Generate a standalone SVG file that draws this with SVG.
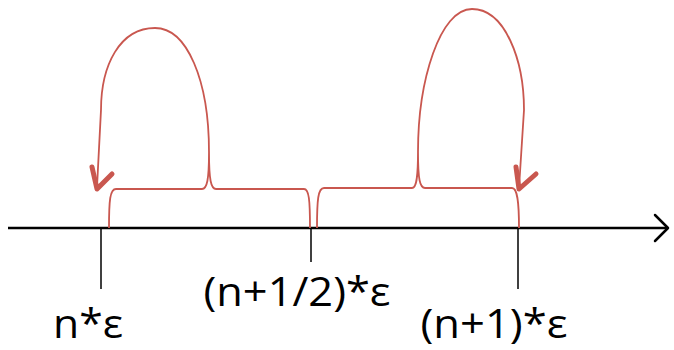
<svg xmlns="http://www.w3.org/2000/svg" width="674" height="350" viewBox="0 0 674 350">
<style>
.ax{stroke:#000;fill:none;stroke-width:2.5}
.tk{stroke:#000;fill:none;stroke-width:1.5}
.br{stroke:#C9574F;fill:none;stroke-width:1.8}
.ah{stroke:#C9574F;fill:none;stroke-width:5;stroke-linecap:round;stroke-linejoin:round}
.lb{font-family:"Open Sans","Liberation Sans",sans-serif;font-size:40px;fill:#000;text-anchor:middle}
</style>
<rect width="674" height="350" fill="#fff"/>
<g id="axis">
<line class="ax" x1="8" y1="228" x2="668" y2="228"/>
<polyline class="ax" points="655,215 668,228 655,241" stroke-width="4" stroke-linecap="round" stroke-linejoin="round"/>
<line class="tk" x1="101" y1="228" x2="101" y2="289"/>
<line class="tk" x1="311" y1="228" x2="311" y2="262"/>
<line class="tk" x1="518" y1="228" x2="518" y2="289"/>
</g>
<g id="label-n">
<text class="lb" x="88" y="338" textLength="70" lengthAdjust="spacingAndGlyphs">n*ε</text>
</g>
<g id="label-half">
<text class="lb" x="297" y="306" textLength="187" lengthAdjust="spacingAndGlyphs">(n+1/2)*ε</text>
</g>
<g id="label-n1">
<text class="lb" x="494" y="338" textLength="147" lengthAdjust="spacingAndGlyphs">(n+1)*ε</text>
</g>
<g id="connectors">
<path class="br" d="M109,228 C109,200 110,189 116,189 L202,189 C207,189 209,180 209,152 C209,180 211,189 216,189 L304,189 C309,189 310,200 310,228"/>
<path class="br" d="M209,152 C209,80 187,28 155,28 C120,28 101,65 101,110 L97,187"/>
<polyline class="ah" points="92,167 97,189 112,174"/>
<path class="br" d="M317,228 C317,200 318,188 324,188 L412,188 C416,188 418,180 418,152 C418,180 420,188 425,188 L512,188 C517,188 519,200 519,228"/>
<path class="br" d="M418,152 C418,80 440,9 472,9 C505,9 524,60 524,110 L519,188"/>
<polyline class="ah" points="516,167 519,189 536,174"/>
</g>
</svg>
